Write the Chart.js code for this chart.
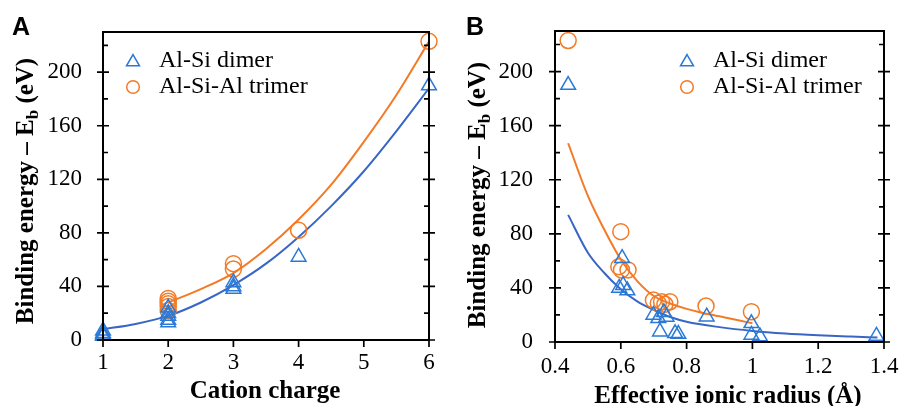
<!DOCTYPE html>
<html><head><meta charset="utf-8">
<script src="https://cdn.jsdelivr.net/npm/chart.js@4/dist/chart.umd.min.js"></script>
<style>
html,body{margin:0;padding:0;background:#fff;width:899px;height:406px;overflow:hidden}
.p{position:absolute;top:0}
#wa{left:0}#wb{left:450px}
canvas{display:block}
</style></head><body>
<div class="p" id="wa"><canvas id="ca" width="450" height="406"></canvas></div>
<div class="p" id="wb"><canvas id="cb" width="449" height="406"></canvas></div>
<script>
// ---- tick labels ----
const CHARGE_TICKS = [1, 2, 3, 4, 5, 6];
const CHARGE_LABELS = ['1', '2', '3', '4', '5', '6'];
const RADIUS_TICKS = [0.4, 0.6, 0.8, 1, 1.2, 1.4];
const RADIUS_LABELS = ['0.4', '0.6', '0.8', '1', '1.2', '1.4'];
const ENERGY_TICKS = [0, 40, 80, 120, 160, 200];
const ENERGY_LABELS = ['0', '40', '80', '120', '160', '200'];
const ENERGY_MINOR = [20, 60, 100, 140, 180, 220];
const SERIES = ['Al-Si dimer', 'Al-Si-Al trimer'];

// ---- panel A: cation charge ----
const chargeDimerX = [1, 1, 1, 1, 2, 2, 2, 2, 2, 3, 3, 3, 4, 6];
const chargeDimerY = [3, 4, 5, 7, 13, 15, 18, 20, 24, 38, 40, 43, 62, 190];
const chargeTrimerX = [2, 2, 2, 2, 2, 3, 3, 4, 6];
const chargeTrimerY = [22, 25, 27, 29, 31, 53, 57, 82, 223];
const chargeFitDimerX = [1, 1.5, 2, 2.5, 3, 3.5, 4, 4.5, 5, 5.5, 6];
const chargeFitDimerY = [8, 12, 18, 28, 41, 57, 77, 100, 126, 156, 188];
const chargeFitTrimerX = [2, 2.5, 3, 3.5, 4, 4.5, 5, 5.5, 6];
const chargeFitTrimerY = [28, 38, 50, 68, 90, 116, 148, 183, 223];

// ---- panel B: effective ionic radius ----
const radiusDimerX = [0.44, 0.604, 0.595, 0.607, 0.62, 0.699, 0.714, 0.731, 0.739, 0.719, 0.765, 0.775, 0.861, 0.997, 0.997, 1.023, 1.377];
const radiusDimerY = [190, 62, 40, 42, 38, 20, 17.5, 22, 18.5, 7.6, 6.4, 5.9, 18.7, 13.8, 5.2, 4, 4.5];
const radiusTrimerX = [0.44, 0.6, 0.594, 0.602, 0.622, 0.699, 0.714, 0.724, 0.734, 0.749, 0.859, 0.997];
const radiusTrimerY = [223, 81.6, 55.7, 53.3, 53.3, 31, 28.6, 29.8, 27.9, 29.8, 26.6, 22.4];
const radiusFitDimerX = [0.44, 0.5, 0.55, 0.6, 0.65, 0.7, 0.75, 0.8, 0.9, 1.0, 1.1, 1.2, 1.3, 1.38];
const radiusFitDimerY = [94, 66, 51, 39, 30, 23.7, 18.5, 15, 11, 8.2, 6.3, 5, 4, 3.3];
const radiusFitTrimerX = [0.44, 0.5, 0.55, 0.6, 0.65, 0.7, 0.75, 0.8, 0.85, 0.9, 0.95, 1.0];
const radiusFitTrimerY = [147, 108, 83, 61, 45, 34, 28.5, 24.5, 21.5, 19, 16.5, 13.8];

const BLUE_PT = '#2a79d6', BLUE_LN = '#3866c6', ORANGE = '#f37a26';
const SERIF = '"Liberation Serif", "Times New Roman", serif';

const pts = (xs, ys) => xs.map((x, i) => ({x, y: ys[i]}));

function triPath(ctx, x, y, r) {
  ctx.beginPath();
  for (let k = 0; k < 3; k++) {
    const a = -Math.PI / 2 + k * 2 * Math.PI / 3;
    const px = x + r * Math.cos(a), py = y + r * Math.sin(a);
    k ? ctx.lineTo(px, py) : ctx.moveTo(px, py);
  }
  ctx.closePath();
}

const deco = {
  id: 'deco',
  afterDraw(chart, args, o) {
    const ctx = chart.ctx, a = chart.chartArea, xs = chart.scales.x, ys = chart.scales.y;
    ctx.save();
    // frame
    ctx.strokeStyle = '#000'; ctx.lineWidth = 2;
    ctx.strokeRect(a.left, a.top, a.right - a.left, a.bottom - a.top);
    // ticks
    ctx.lineWidth = 1.7;
    ctx.beginPath();
    ENERGY_TICKS.forEach(v => { const p = ys.getPixelForValue(v);
      ctx.moveTo(a.left - 6, p); ctx.lineTo(a.left + 6, p);
      ctx.moveTo(a.right - 6, p); ctx.lineTo(a.right + 6, p); });
    ENERGY_MINOR.forEach(v => { const p = ys.getPixelForValue(v);
      ctx.moveTo(a.left, p); ctx.lineTo(a.left + 5, p);
      ctx.moveTo(a.right - 5, p); ctx.lineTo(a.right, p); });
    o.xticks.forEach(v => { const p = xs.getPixelForValue(v);
      ctx.moveTo(p, a.bottom); ctx.lineTo(p, a.bottom + 7); });
    ctx.stroke();
    ctx.fillStyle = '#000';
    // x title
    ctx.font = 'bold 25px ' + SERIF; ctx.textAlign = 'center'; ctx.textBaseline = 'alphabetic';
    ctx.fillText(o.xt.text, o.xt.x, o.xt.y);
    // y title with subscript
    ctx.save();
    ctx.translate(o.yt.x, o.yt.y);
    ctx.rotate(-Math.PI / 2);
    ctx.textBaseline = 'alphabetic'; ctx.textAlign = 'left';
    const f1 = 'bold 25px ' + SERIF, f2 = 'bold 17px ' + SERIF;
    const t1 = 'Binding energy \u2013 E', t2 = 'b', t3 = ' (eV)';
    ctx.font = f1; const w1 = ctx.measureText(t1).width, w3 = ctx.measureText(t3).width;
    ctx.font = f2; const w2 = ctx.measureText(t2).width;
    let x0 = -(w1 + w2 + w3) / 2;
    ctx.font = f1; ctx.fillText(t1, x0, 0);
    ctx.font = f2; ctx.fillText(t2, x0 + w1, 5);
    ctx.font = f1; ctx.fillText(t3, x0 + w1 + w2, 0);
    ctx.restore();
    // legend
    const L = o.legend;
    ctx.lineWidth = 1.5;
    ctx.strokeStyle = BLUE_PT; triPath(ctx, L.mx, L.y1, 7.5); ctx.stroke();
    ctx.strokeStyle = ORANGE; ctx.beginPath(); ctx.arc(L.mx, L.y2, 6.3, 0, Math.PI * 2); ctx.stroke();
    ctx.fillStyle = '#000'; ctx.font = '24px ' + SERIF; ctx.textBaseline = 'alphabetic'; ctx.textAlign = 'left';
    ctx.fillText(SERIES[0], L.tx, L.b1);
    ctx.fillText(SERIES[1], L.tx, L.b2);
    // panel letter
    ctx.font = 'bold 25px "Liberation Sans", Arial, sans-serif';
    ctx.fillText(o.letter, o.lx, 35);
    ctx.restore();
  }
};

function makeChart(id, c) {
  const tickFont = {family: SERIF, size: 23};
  return new Chart(document.getElementById(id), {
    type: 'scatter',
    data: {datasets: [
      {label: SERIES[0], data: pts(c.dX, c.dY), pointStyle: 'triangle', pointRadius: 8.5, pointHoverRadius: 8.5,
       borderColor: BLUE_PT, backgroundColor: 'rgba(0,0,0,0)', pointBorderWidth: 1.5, clip: false},
      {label: SERIES[1], data: pts(c.tX, c.tY), pointStyle: 'circle', pointRadius: 8, pointHoverRadius: 8,
       borderColor: ORANGE, backgroundColor: 'rgba(0,0,0,0)', pointBorderWidth: 1.5, clip: false},
      {type: 'line', label: 'fit1', data: pts(c.fdX, c.fdY), showLine: true, pointRadius: 0,
       borderColor: BLUE_LN, borderWidth: 2, cubicInterpolationMode: 'monotone', fill: false, clip: false},
      {type: 'line', label: 'fit2', data: pts(c.ftX, c.ftY), showLine: true, pointRadius: 0,
       borderColor: ORANGE, borderWidth: 2, cubicInterpolationMode: 'monotone', fill: false, clip: false}
    ]},
    options: {
      responsive: false, animation: false, devicePixelRatio: 1,
      layout: {padding: c.pad},
      plugins: {legend: {display: false}, tooltip: {enabled: false},
        deco: {xticks: c.xt, yt: c.yt, xt: c.xtt, legend: c.legend, letter: c.letter, lx: c.lx}},
      scales: {
        x: {type: 'linear', min: c.xmin, max: c.xmax,
          afterBuildTicks: s => { s.ticks = c.xt.map(v => ({value: v})); },
          afterFit: s => { s.height = c.xh; s.paddingLeft = 0; s.paddingRight = 0; },
          ticks: {font: tickFont, color: '#000', padding: c.xpad, maxRotation: 0, autoSkip: false,
            callback: (v, i) => c.xl[i]},
          grid: {display: false, drawTicks: false, tickLength: 0}, border: {display: false},
          title: {display: false}},
        y: {type: 'linear', min: 0, max: 230,
          afterBuildTicks: s => { s.ticks = ENERGY_TICKS.map(v => ({value: v})); },
          afterFit: s => { s.width = c.yw; s.paddingTop = 0; s.paddingBottom = 0; },
          ticks: {font: tickFont, color: '#000', padding: c.ypad, autoSkip: false,
            callback: (v, i) => ENERGY_LABELS[i]},
          grid: {display: false, drawTicks: false, tickLength: 0}, border: {display: false}}
      }
    },
    plugins: [deco]
  });
}

makeChart('ca', {
  dX: chargeDimerX, dY: chargeDimerY, tX: chargeTrimerX, tY: chargeTrimerY,
  fdX: chargeFitDimerX, fdY: chargeFitDimerY, ftX: chargeFitTrimerX, ftY: chargeFitTrimerY,
  xmin: 1, xmax: 6, xt: CHARGE_TICKS, xl: CHARGE_LABELS,
  xtt: {text: 'Cation charge', x: 265, y: 398},
  pad: {left: 0, top: 32, right: 21, bottom: 0}, xh: 66, yw: 103, xpad: 9, ypad: 21,
  yt: {x: 33, y: 191}, legend: {mx: 133, y1: 62, y2: 87, tx: 159, b1: 67, b2: 93}, letter: 'A', lx: 12
});
makeChart('cb', {
  dX: radiusDimerX, dY: radiusDimerY, tX: radiusTrimerX, tY: radiusTrimerY,
  fdX: radiusFitDimerX, fdY: radiusFitDimerY, ftX: radiusFitTrimerX, ftY: radiusFitTrimerY,
  xmin: 0.4, xmax: 1.4, xt: RADIUS_TICKS, xl: RADIUS_LABELS,
  xtt: {text: 'Effective ionic radius (\u00C5)', x: 278, y: 403},
  pad: {left: 0, top: 31, right: 15, bottom: 0}, xh: 64, yw: 105, xpad: 11, ypad: 22,
  yt: {x: 35, y: 195}, legend: {mx: 237, y1: 62, y2: 87, tx: 263, b1: 67, b2: 93}, letter: 'B', lx: 16
});
</script>
</body></html>
